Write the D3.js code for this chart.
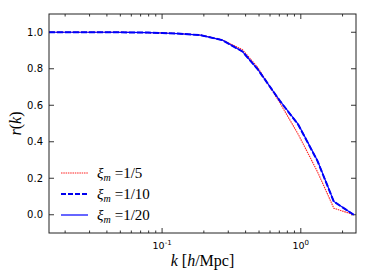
<!DOCTYPE html>
<html>
<head>
<meta charset="utf-8">
<script src="https://cdn.jsdelivr.net/npm/d3@7"></script>
<style>
  body { margin: 0; background: #fff; }
  svg { display: block; }
</style>
</head>
<body>
<svg id="chart"></svg>
<script>
// k in h/Mpc
const kVals = [0.0153, 0.025, 0.04, 0.06, 0.08, 0.1, 0.13, 0.189, 0.271, 0.379, 0.486, 0.705, 0.959, 1.32, 1.73, 2.41];
const r5  = [1.0, 1.0, 1.0, 0.999, 0.998, 0.996, 0.993, 0.985, 0.958, 0.905, 0.81, 0.615, 0.44, 0.235, 0.036, 0.0];
const r10 = [1.0, 1.0, 1.0, 0.999, 0.998, 0.996, 0.993, 0.984, 0.957, 0.895, 0.80, 0.625, 0.493, 0.294, 0.072, 0.0];
const r20 = [1.0, 1.0, 1.0, 0.999, 0.998, 0.996, 0.993, 0.984, 0.957, 0.895, 0.80, 0.626, 0.495, 0.296, 0.073, 0.0];
const yTicks = [0.0, 0.2, 0.4, 0.6, 0.8, 1.0];
const seriesNames = ["1/5", "1/10", "1/20"];

const W = 374, H = 280;
const margin = {top: 14, right: 18, bottom: 47, left: 49};
const iw = W - margin.left - margin.right, ih = H - margin.top - margin.bottom;

const svg = d3.select("#chart").attr("width", W).attr("height", H);
const g = svg.append("g").attr("transform", `translate(${margin.left},${margin.top})`);

const x = d3.scaleLog().domain([0.0153, 2.5]).range([0, iw]);
const y = d3.scaleLinear().domain([-0.1, 1.1]).range([ih, 0]);

// minor + major ticks for log axis
const majors = [0.1, 1];
const minors = [];
[0.01, 0.1, 1].forEach(d => { for (let i = 2; i <= 9; i++) { const v = d * i; if (v >= 0.0153 && v <= 2.5) minors.push(v); } });

function tickLines(vals, len, side) {
  vals.forEach(v => {
    if (side === "x") {
      g.append("line").attr("x1", x(v)).attr("x2", x(v)).attr("y1", ih).attr("y2", ih - len).attr("stroke", "#000").attr("stroke-width", 0.8);
      g.append("line").attr("x1", x(v)).attr("x2", x(v)).attr("y1", 0).attr("y2", len).attr("stroke", "#000").attr("stroke-width", 0.8);
    } else {
      g.append("line").attr("y1", y(v)).attr("y2", y(v)).attr("x1", 0).attr("x2", len).attr("stroke", "#000").attr("stroke-width", 0.8);
      g.append("line").attr("y1", y(v)).attr("y2", y(v)).attr("x1", iw).attr("x2", iw - len).attr("stroke", "#000").attr("stroke-width", 0.8);
    }
  });
}
tickLines(majors, 5, "x");
tickLines(minors, 2.5, "x");
tickLines(yTicks, 5, "y");

// y tick labels
g.selectAll(".ylab").data(yTicks).enter().append("text")
  .attr("x", -6).attr("y", d => y(d)).attr("dy", "0.35em")
  .attr("text-anchor", "end")
  .attr("font-family", "DejaVu Sans, sans-serif").attr("font-size", 10)
  .text(d => d.toFixed(1));

// x tick labels 10^-1, 10^0
const xl = g.selectAll(".xlab").data(majors).enter().append("text")
  .attr("x", d => x(d)).attr("y", ih + 16)
  .attr("text-anchor", "middle")
  .attr("font-family", "DejaVu Sans, sans-serif").attr("font-size", 9.5);
xl.append("tspan").text("10");
xl.append("tspan").attr("dy", -4).attr("font-size", 7).text(d => Math.round(Math.log10(d)) === 0 ? "0" : "-1");

// lines
const line = vals => d3.line().x((d, i) => x(kVals[i])).y(d => y(d))(vals);
g.append("path").attr("d", line(r5)).attr("fill", "none").attr("stroke", "#ff2020").attr("stroke-width", 1.1).attr("stroke-dasharray", "1.5,0.8");
g.append("path").attr("d", line(r10)).attr("fill", "none").attr("stroke", "#0000ee").attr("stroke-width", 2).attr("stroke-dasharray", "6,2");
g.append("path").attr("d", line(r20)).attr("fill", "none").attr("stroke", "#0000ff").attr("stroke-width", 1.2);

// frame
g.append("rect").attr("width", iw).attr("height", ih).attr("fill", "none").attr("stroke", "#222").attr("stroke-width", 1);

// legend
const styles = [
  {c: "#ff2020", w: 1.1, dash: "1.5,0.8"},
  {c: "#0000ee", w: 2, dash: "5,2"},
  {c: "#0000ff", w: 1.2, dash: null}
];
seriesNames.forEach((s, i) => {
  const ly = 159 + i * 21;
  const st = styles[i];
  const ln = g.append("line").attr("x1", 12).attr("x2", 39).attr("y1", ly).attr("y2", ly)
    .attr("stroke", st.c).attr("stroke-width", st.w);
  if (st.dash) ln.attr("stroke-dasharray", st.dash);
  const t = g.append("text").attr("x", 48).attr("y", ly + 5)
    .attr("font-family", "Liberation Serif, serif").attr("font-size", 15);
  t.append("tspan").attr("font-style", "italic").text("ξ");
  t.append("tspan").attr("font-style", "italic").attr("font-size", 10).attr("dy", 3).text("m");
  t.append("tspan").attr("dy", -3).attr("dx", 4).text("=" + s);
});

// axis titles
const xt = svg.append("text").attr("x", margin.left + iw / 2).attr("y", 266)
  .attr("text-anchor", "middle").attr("font-family", "Liberation Serif, serif").attr("font-size", 16);
xt.append("tspan").attr("font-style", "italic").text("k");
xt.append("tspan").text(" [");
xt.append("tspan").attr("font-style", "italic").text("h");
xt.append("tspan").text("/Mpc]");

const yt = svg.append("text").attr("transform", `translate(21,${margin.top + ih / 2}) rotate(-90)`)
  .attr("text-anchor", "middle").attr("font-family", "Liberation Serif, serif").attr("font-size", 16);
yt.append("tspan").attr("font-style", "italic").text("r");
yt.append("tspan").text("(");
yt.append("tspan").attr("font-style", "italic").text("k");
yt.append("tspan").text(")");
</script>
</body>
</html>
